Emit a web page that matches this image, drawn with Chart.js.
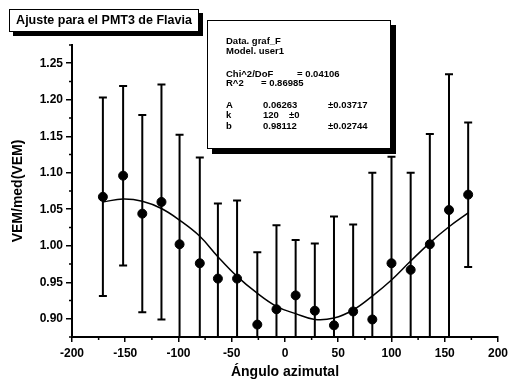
<!DOCTYPE html>
<html>
<head>
<meta charset="utf-8">
<script src="https://cdn.jsdelivr.net/npm/chart.js@4.4.0/dist/chart.umd.min.js"></script>
<style>
  html, body { margin: 0; padding: 0; background: #fff; }
  #wrap { position: relative; width: 512px; height: 382px; font-family: "Liberation Sans", Arial, sans-serif; color: #000; }
  #chart { position: absolute; left: 0; top: 0; }
  .title-box {
    position: absolute; left: 9px; top: 9px; width: 188px; height: 21px;
    border: 1px solid #000; box-shadow: 4px 4px 0 #000; background: #fff;
    font-weight: bold; font-size: 12.5px; line-height: 21px; text-align: center;
  }
  .stats {
    position: absolute; left: 207px; top: 20px; width: 182px; height: 127px;
    border: 1px solid #000; box-shadow: 5px 5px 0 #000; background: #fff;
    font-weight: bold; font-size: 9.5px;
  }
  .stats span { position: absolute; white-space: nowrap; line-height: 10px; }
</style>
</head>
<body>
<div id="wrap">
  <canvas id="chart" width="512" height="382"></canvas>
  <div class="title-box">Ajuste para el PMT3 de Flavia</div>
  <div class="stats">
    <span style="left:18px;top:15px">Data. graf_F</span>
    <span style="left:18px;top:25px">Model. user1</span>
    <span style="left:18px;top:48px">Chi^2/DoF</span>
    <span style="left:89px;top:48px">= 0.04106</span>
    <span style="left:18px;top:57px">R^2</span>
    <span style="left:53px;top:57px">= 0.86985</span>
    <span style="left:18px;top:79px">A</span>
    <span style="left:55px;top:79px">0.06263</span>
    <span style="left:120px;top:79px">±0.03717</span>
    <span style="left:18px;top:89px">k</span>
    <span style="left:55px;top:89px">120</span>
    <span style="left:81px;top:89px">±0</span>
    <span style="left:18px;top:100px">b</span>
    <span style="left:55px;top:100px">0.98112</span>
    <span style="left:120px;top:100px">±0.02744</span>
  </div>
</div>
<script>
// medidas: angulo, VEM/med(VEM) y su error
const angles = [-171, -152, -134, -116, -99, -80, -63, -45, -26, -8, 10, 28, 46, 64, 82, 100, 118, 136, 154, 172];
const ratio  = [1.067, 1.096, 1.044, 1.060, 1.002, 0.976, 0.955, 0.955, 0.892, 0.913, 0.932, 0.911, 0.891, 0.910, 0.899, 0.976, 0.967, 1.002, 1.049, 1.070];
const errors = [0.136, 0.123, 0.135, 0.161, 0.150, 0.145, 0.103, 0.107, 0.099, 0.115, 0.076, 0.092, 0.149, 0.119, 0.201, 0.146, 0.133, 0.151, 0.186, 0.099];

// curva de ajuste
const fitX = [-171, -152, -134, -116, -99, -80, -63, -45, -27, -8, 10, 28, 46, 64, 82, 100, 118, 136, 154, 172];
const fitY = [1.060, 1.064, 1.061, 1.051, 1.035, 1.013, 0.985, 0.958, 0.936, 0.917, 0.907, 0.899, 0.901, 0.912, 0.931, 0.953, 0.979, 1.004, 1.026, 1.045];

const yTicks = [0.90, 0.95, 1.00, 1.05, 1.10, 1.15, 1.20, 1.25];
const xMinor = [-175, -125, -75, -25, 25, 75, 125, 175];
const yMinor = [0.875, 0.925, 0.975, 1.025, 1.075, 1.125, 1.175, 1.225, 1.275];

const tickFont = { family: '"Liberation Sans", Arial, sans-serif', size: 12, weight: 'bold' };
const titleFont = { family: '"Liberation Sans", Arial, sans-serif', size: 14, weight: 'bold' };

// barras de error
const errorBars = {
  id: 'errorBars',
  beforeDatasetsDraw(chart) {
    const { ctx, chartArea, scales: { x, y } } = chart;
    ctx.save();
    ctx.beginPath();
    ctx.rect(chartArea.left, chartArea.top - 10, chartArea.right - chartArea.left, chartArea.bottom - chartArea.top + 10);
    ctx.clip();
    ctx.strokeStyle = '#000';
    ctx.lineWidth = 2;
    angles.forEach((a, i) => {
      const px = x.getPixelForValue(a);
      const top = y.getPixelForValue(ratio[i] + errors[i]);
      const bot = y.getPixelForValue(ratio[i] - errors[i]);
      ctx.beginPath();
      ctx.moveTo(px, top); ctx.lineTo(px, bot);
      ctx.moveTo(px - 4, top); ctx.lineTo(px + 4, top);
      ctx.moveTo(px - 4, bot); ctx.lineTo(px + 4, bot);
      ctx.stroke();
    });
    ctx.restore();
  }
};

// ticks menores
const minorTicks = {
  id: 'minorTicks',
  afterDraw(chart) {
    const { ctx, chartArea, scales: { x, y } } = chart;
    ctx.save();
    ctx.strokeStyle = '#000';
    ctx.lineWidth = 1.5;
    ctx.beginPath();
    xMinor.forEach(v => {
      const px = x.getPixelForValue(v);
      ctx.moveTo(px, chartArea.bottom); ctx.lineTo(px, chartArea.bottom + 3);
    });
    yMinor.forEach(v => {
      const py = y.getPixelForValue(v);
      ctx.moveTo(chartArea.left, py); ctx.lineTo(chartArea.left - 3, py);
    });
    ctx.stroke();
    ctx.restore();
  }
};

new Chart(document.getElementById('chart'), {
  type: 'scatter',
  data: {
    datasets: [
      {
        type: 'line',
        label: 'ajuste',
        data: fitX.map((v, i) => ({ x: v, y: fitY[i] })),
        borderColor: '#000',
        borderWidth: 1.5,
        pointRadius: 0,
        tension: 0.4,
        fill: false
      },
      {
        label: 'datos',
        data: angles.map((v, i) => ({ x: v, y: ratio[i] })),
        backgroundColor: '#000',
        borderColor: '#000',
        pointRadius: 4.5,
        pointStyle: 'circle'
      }
    ]
  },
  options: {
    responsive: false,
    animation: false,
    layout: { padding: { left: 0, top: 45, right: 9, bottom: 0 } },
    plugins: { legend: { display: false }, tooltip: { enabled: false } },
    scales: {
      x: {
        type: 'linear',
        min: -200, max: 200,
        ticks: { stepSize: 50, color: '#000', font: tickFont, padding: 4, maxRotation: 0 },
        grid: { drawOnChartArea: false, drawTicks: true, tickLength: 5, color: '#000', lineWidth: 1.5 },
        border: { display: true, color: '#000', width: 2 },
        title: { display: true, text: 'Ángulo azimutal', color: '#000', font: titleFont, padding: { top: 0, bottom: 1 } },
        afterFit(scale) { scale.height = 45; }
      },
      y: {
        min: 0.875, max: 1.275,
        afterBuildTicks(scale) { scale.ticks = yTicks.map(v => ({ value: v })); },
        ticks: { color: '#000', font: tickFont, padding: 3, callback: v => v.toFixed(2) },
        grid: { drawOnChartArea: false, drawTicks: true, tickLength: 6, color: '#000', lineWidth: 1.5 },
        border: { display: true, color: '#000', width: 2 },
        title: { display: true, text: 'VEM/med(VEM)', color: '#000', font: titleFont, padding: { top: 10, bottom: 0 } },
        afterFit(scale) { scale.width = 72; }
      }
    }
  },
  plugins: [errorBars, minorTicks]
});
</script>
</body>
</html>
